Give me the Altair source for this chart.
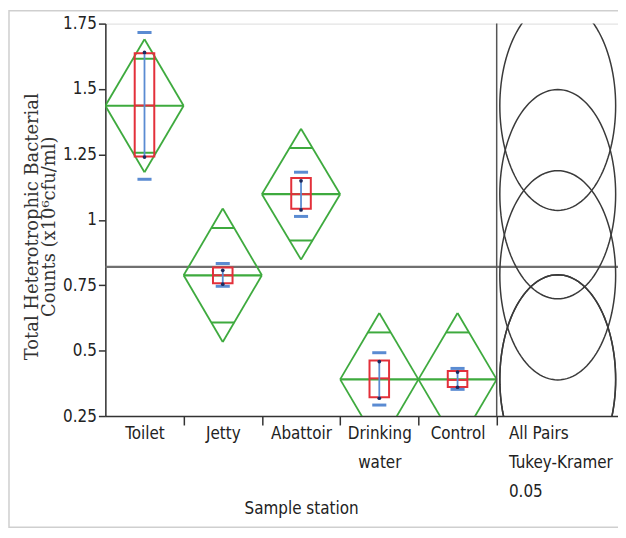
import altair as alt
import pandas as pd
import numpy as np

# ---- data ----
categories = ["Toilet", "Jetty", "Abattoir", "Drinking water", "Control"]
category_lines = [["Toilet"], ["Jetty"], ["Abattoir"], ["Drinking", "water"], ["Control"]]
means = [1.436, 0.788, 1.098, 0.390, 0.390]
ci_half = [0.254, 0.255, 0.250, 0.254, 0.254]
box_lo = [1.242, 0.758, 1.042, 0.322, 0.361]
box_hi = [1.637, 0.818, 1.160, 0.462, 0.422]
medians = [1.437, 0.788, 1.098, 0.394, 0.388]
whisk_lo = [1.240, 0.754, 1.038, 0.318, 0.360]
whisk_hi = [1.640, 0.807, 1.149, 0.458, 0.418]
cap_lo = [1.155, 0.746, 1.013, 0.292, 0.352]
cap_hi = [1.716, 0.833, 1.182, 0.492, 0.432]
grand_mean = 0.82
circle_radius = 0.40
tukey_lines = ["All Pairs", "Tukey-Kramer", "0.05"]
y_ticks = [0.25, 0.5, 0.75, 1.0, 1.25, 1.5, 1.75]

# ---- derived tables ----
n = len(categories)
centers = [i + 0.5 for i in range(n)]
diam_rows = []
for i, (m, c) in enumerate(zip(means, ci_half)):
    cx = centers[i]
    pts = [(i, m), (cx, m + c), (i + 1, m), (cx, m - c), (i, m)]
    for (xa, ya), (xb, yb) in zip(pts[:-1], pts[1:]):
        diam_rows.append({"x": xa, "y": ya, "x2": xb, "y2": yb})
diam_df = pd.DataFrame(diam_rows)

hw = 0.5 * (1 - 1 / np.sqrt(2))
ov_rows = []
mean_rows = []
for i, (m, c) in enumerate(zip(means, ci_half)):
    mean_rows.append({"x": i, "x2": i + 1, "y": m})
    for s in (1, -1):
        ov_rows.append({"x": centers[i] - hw, "x2": centers[i] + hw, "y": m + s * c / np.sqrt(2)})
mean_df = pd.DataFrame(mean_rows)
ov_df = pd.DataFrame(ov_rows)

box_df = pd.DataFrame({
    "c": centers, "lo": box_lo, "hi": box_hi, "med": medians,
    "wlo": whisk_lo, "whi": whisk_hi, "clo": cap_lo, "chi": cap_hi,
})
box_df["bl"] = box_df["c"] - 0.125
box_df["br"] = box_df["c"] + 0.125
box_df["kl"] = box_df["c"] - 0.09
box_df["kr"] = box_df["c"] + 0.09

dots_df = pd.DataFrame({"c": centers * 2, "v": whisk_lo + whisk_hi})
circ_df = pd.DataFrame({"group": categories, "mean": means})
gm_df = pd.DataFrame({"gm": [grand_mean]})
div_df = pd.DataFrame({"d": [5.0]})
tick_pos = [float(i) for i in range(1, 6)]

# ---- axes ----
label_vals = sorted(centers + tick_pos + [5.15])
expr = "''"
for v, lines in reversed(list(zip(centers + [5.15], category_lines + [tukey_lines]))):
    arr = "[" + ",".join("'" + s + "'" for s in lines) + "]"
    expr = f"datum.value == {v} ? {arr} : {expr}"

NARROW = "DejaVu Sans Condensed, Liberation Sans Narrow, Arial Narrow, Liberation Sans"
W, H = 516, 395

xscale = alt.Scale(domain=[0, 6.55], nice=False, zero=False)
yscale = alt.Scale(domain=[0.25, 1.75], nice=False, zero=False)

xaxis = alt.Axis(
    values=label_vals, labelExpr=expr, grid=False,
    tickSize=9, tickColor="#333", tickWidth=1.5,
    tickOpacity={"condition": {"test": "datum.value % 1 != 0", "value": 0}, "value": 1},
    labelAlign={"condition": {"test": "datum.value > 5", "value": "left"}, "value": "center"},
    labelBaseline="top", labelPadding=1, labelLineHeight=29,
    labelFont=NARROW, labelFontSize=17, labelColor="#222",
    labelOverlap=False, labelFlush=False,
    domainColor="#333", domainWidth=1.5,
    title="Sample station", titleFont=NARROW, titleFontSize=17, titleFontWeight="normal",
    titleColor="#222", titleX=197, titleY=93, titleBaseline="middle", titleAlign="center",
)
yaxis = alt.Axis(
    values=y_ticks, labelExpr="toString(datum.value)", grid=False,
    tickSize=7, tickColor="#333", tickWidth=1.5,
    labelFont=NARROW, labelFontSize=17, labelColor="#222", labelPadding=2,
    domainColor="#333", domainWidth=1.5,
    title=["Total Heterotrophic Bacterial", "Counts (x10\u2076cfu/ml)"],
    titleFont="DejaVu Serif", titleFontSize=18, titleFontWeight="normal", titleColor="#333",
    titleX=-73, titleY=204, titleBaseline="middle", titleAlign="center", titleLineHeight=17,
)


def X(f):
    return alt.X(f, type="quantitative", scale=xscale, axis=xaxis)


def Y(f):
    return alt.Y(f, type="quantitative", scale=yscale, axis=yaxis)


GREEN = "#3eaa3e"
RED = "#e3303a"
BLUE = "#5a8bd2"

gm = alt.Chart(gm_df).mark_rule(color="#707070", strokeWidth=2.2).encode(y=Y("gm"))
div = alt.Chart(div_df).mark_rule(color="#555", strokeWidth=1.5).encode(x=X("d"))

diamonds = alt.Chart(diam_df).mark_rule(color=GREEN, strokeWidth=1.8, clip=True).encode(
    x=X("x"), y=Y("y"), x2="x2", y2="y2")
mean_lines = alt.Chart(mean_df).mark_rule(color=GREEN, strokeWidth=2.2, clip=True).encode(
    x=X("x"), x2="x2", y=Y("y"))
overlap = alt.Chart(ov_df).mark_rule(color=GREEN, strokeWidth=2, clip=True).encode(
    x=X("x"), x2="x2", y=Y("y"))

circles = alt.Chart(circ_df).transform_calculate(
    t="sequence(0, 361, 3)"
).transform_flatten(["t"]).transform_calculate(
    cx="5.78 + 0.74 * cos(datum.t * PI / 180)",
    cy=f"datum.mean + {circle_radius} * sin(datum.t * PI / 180)",
).mark_line(color="#3a3a3a", strokeWidth=1.5, clip=True).encode(
    x=X("cx"), y=Y("cy"), detail="group:N", order="t:Q")

boxes = alt.Chart(box_df).mark_rect(fillOpacity=0, stroke=RED, strokeWidth=2).encode(
    x=X("bl"), x2="br", y=Y("lo"), y2="hi")
med = alt.Chart(box_df).mark_rule(color=RED, strokeWidth=2).encode(
    x=X("bl"), x2="br", y=Y("med"))
whisk = alt.Chart(box_df).mark_rule(color=BLUE, strokeWidth=1.8).encode(
    x=X("c"), y=Y("wlo"), y2="whi")
caps_lo = alt.Chart(box_df).mark_rule(color=BLUE, strokeWidth=3).encode(
    x=X("kl"), x2="kr", y=Y("clo"))
caps_hi = alt.Chart(box_df).mark_rule(color=BLUE, strokeWidth=3).encode(
    x=X("kl"), x2="kr", y=Y("chi"))
dots = alt.Chart(dots_df).mark_point(filled=True, color="#1d2a5e", size=14, opacity=1).encode(
    x=X("c"), y=Y("v"))

border = alt.Chart(gm_df).mark_rect(fillOpacity=0, stroke="#cfcfcf", strokeWidth=1.5, clip=False).encode(
    x=alt.value(-97), x2=alt.value(W + 20), y=alt.value(-13), y2=alt.value(H + 112))

chart = alt.layer(
    border, gm, diamonds, mean_lines, overlap, div, circles,
    boxes, med, whisk, caps_lo, caps_hi, dots,
).properties(
    width=W, height=H,
    padding={"left": 98, "top": 14, "right": 0, "bottom": 113},
    autosize=alt.AutoSizeParams(type="none"),
).configure_view(stroke="#555", strokeWidth=1.5).configure(background="white")

chart.save("out.html", embed_options={"renderer": "svg", "actions": False})
